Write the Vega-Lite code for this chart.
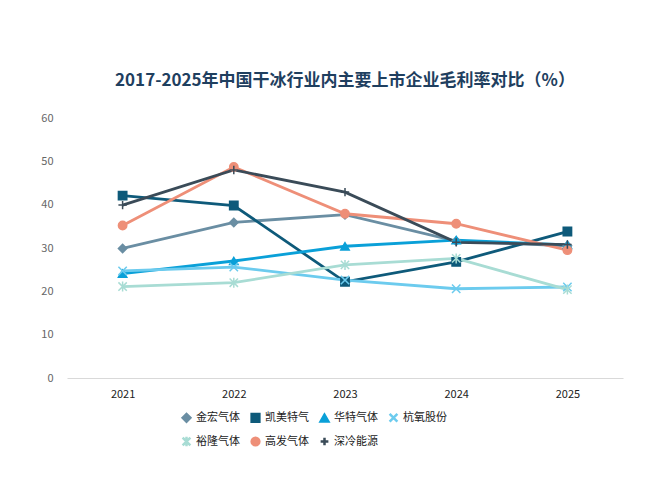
{
  "$schema": "https://vega.github.io/schema/vega-lite/v6.json",
  "width": 556,
  "height": 260,
  "padding": {"left": 40, "top": 72, "right": 20, "bottom": 10},
  "background": "white",
  "title": {
    "text": "2017-2025年中国干冰行业内主要上市企业毛利率对比（%）",
    "font": "Noto Sans CJK SC",
    "fontSize": 17,
    "fontWeight": "bold",
    "color": "#1f3f5f",
    "offset": 22,
    "anchor": "middle"
  },
  "data": {
    "values": [
      {"company": "金宏气体", "year": "2021", "v": 29.9},
      {"company": "金宏气体", "year": "2022", "v": 35.9},
      {"company": "金宏气体", "year": "2023", "v": 37.7},
      {"company": "金宏气体", "year": "2024", "v": 31.6},
      {"company": "金宏气体", "year": "2025", "v": 30.5},
      {"company": "凯美特气", "year": "2021", "v": 42.1},
      {"company": "凯美特气", "year": "2022", "v": 39.8},
      {"company": "凯美特气", "year": "2023", "v": 22.2},
      {"company": "凯美特气", "year": "2024", "v": 26.8},
      {"company": "凯美特气", "year": "2025", "v": 33.8},
      {"company": "华特气体", "year": "2021", "v": 24.1},
      {"company": "华特气体", "year": "2022", "v": 27.0},
      {"company": "华特气体", "year": "2023", "v": 30.4},
      {"company": "华特气体", "year": "2024", "v": 31.8},
      {"company": "华特气体", "year": "2025", "v": 30.7},
      {"company": "杭氧股份", "year": "2021", "v": 24.7},
      {"company": "杭氧股份", "year": "2022", "v": 25.6},
      {"company": "杭氧股份", "year": "2023", "v": 22.6},
      {"company": "杭氧股份", "year": "2024", "v": 20.6},
      {"company": "杭氧股份", "year": "2025", "v": 21.0},
      {"company": "裕隆气体", "year": "2021", "v": 21.1},
      {"company": "裕隆气体", "year": "2022", "v": 22.0},
      {"company": "裕隆气体", "year": "2023", "v": 26.1},
      {"company": "裕隆气体", "year": "2024", "v": 27.6},
      {"company": "裕隆气体", "year": "2025", "v": 20.4},
      {"company": "高发气体", "year": "2021", "v": 35.2},
      {"company": "高发气体", "year": "2022", "v": 48.7},
      {"company": "高发气体", "year": "2023", "v": 37.9},
      {"company": "高发气体", "year": "2024", "v": 35.6},
      {"company": "高发气体", "year": "2025", "v": 29.5},
      {"company": "深冷能源", "year": "2021", "v": 39.9},
      {"company": "深冷能源", "year": "2022", "v": 48.0},
      {"company": "深冷能源", "year": "2023", "v": 42.9},
      {"company": "深冷能源", "year": "2024", "v": 31.3},
      {"company": "深冷能源", "year": "2025", "v": 30.8}
    ]
  },
  "config": {
    "font": "Noto Sans CJK SC",
    "view": {"stroke": null},
    "axis": {"labelFont": "Noto Sans CJK SC"}
  },
  "encoding": {
    "x": {
      "field": "year", "type": "ordinal", "title": null,
      "scale": {"paddingOuter": 0.5},
      "axis": {"labelAngle": 0, "labelFontSize": 11, "labelColor": "#222", "ticks": false, "domainColor": "#d9d9d9", "labelPadding": 10}
    },
    "y": {
      "field": "v", "type": "quantitative", "title": null,
      "scale": {"domain": [0, 60]},
      "axis": {"tickCount": 6, "grid": false, "domain": false, "ticks": false, "labelFontSize": 11, "labelColor": "#666", "labelPadding": 14}
    },
    "color": {
      "field": "company", "type": "nominal", "title": null,
      "scale": {
        "domain": ["金宏气体", "凯美特气", "华特气体", "杭氧股份", "裕隆气体", "高发气体", "深冷能源"],
        "range": ["#6a8ea3", "#0e5a7a", "#0aa0d8", "#6ccbee", "#a8dcd4", "#ee8f78", "#3a4b58"]
      },
      "legend": {"orient": "none", "direction": "horizontal", "legendX": 114, "legendY": 294, "columns": 4, "labelFontSize": 11, "labelColor": "#222", "symbolSize": 60, "columnPadding": 6, "rowPadding": 4, "symbolStrokeWidth": 2.5, "symbolType": "stroke", "labelLimit": 80}
    }
  },
  "layer": [
    {"mark": {"type": "line", "strokeWidth": 2.8}},
    {
      "mark": {"type": "point", "filled": true, "size": 70, "strokeWidth": 1.5, "opacity": 1},
      "encoding": {
        "stroke": {"field": "company", "type": "nominal", "legend": null,
          "scale": {
            "domain": ["金宏气体", "凯美特气", "华特气体", "杭氧股份", "裕隆气体", "高发气体", "深冷能源"],
            "range": ["#6a8ea3", "#0e5a7a", "#0aa0d8", "#6ccbee", "#a8dcd4", "#ee8f78", "#3a4b58"]
          }},
        "shape": {"field": "company", "type": "nominal", "legend": null,
          "scale": {
            "domain": ["金宏气体", "凯美特气", "华特气体", "杭氧股份", "裕隆气体", "高发气体", "深冷能源"],
            "range": ["diamond", "square", "triangle-up", "M-1,-1L1,1M-1,1L1,-1", "M-1,-1L1,1M-1,1L1,-1M0,-1.2L0,1.2", "circle", "M-1,0L1,0M0,-1L0,1"]
          }}
      }
    }
  ]
}
